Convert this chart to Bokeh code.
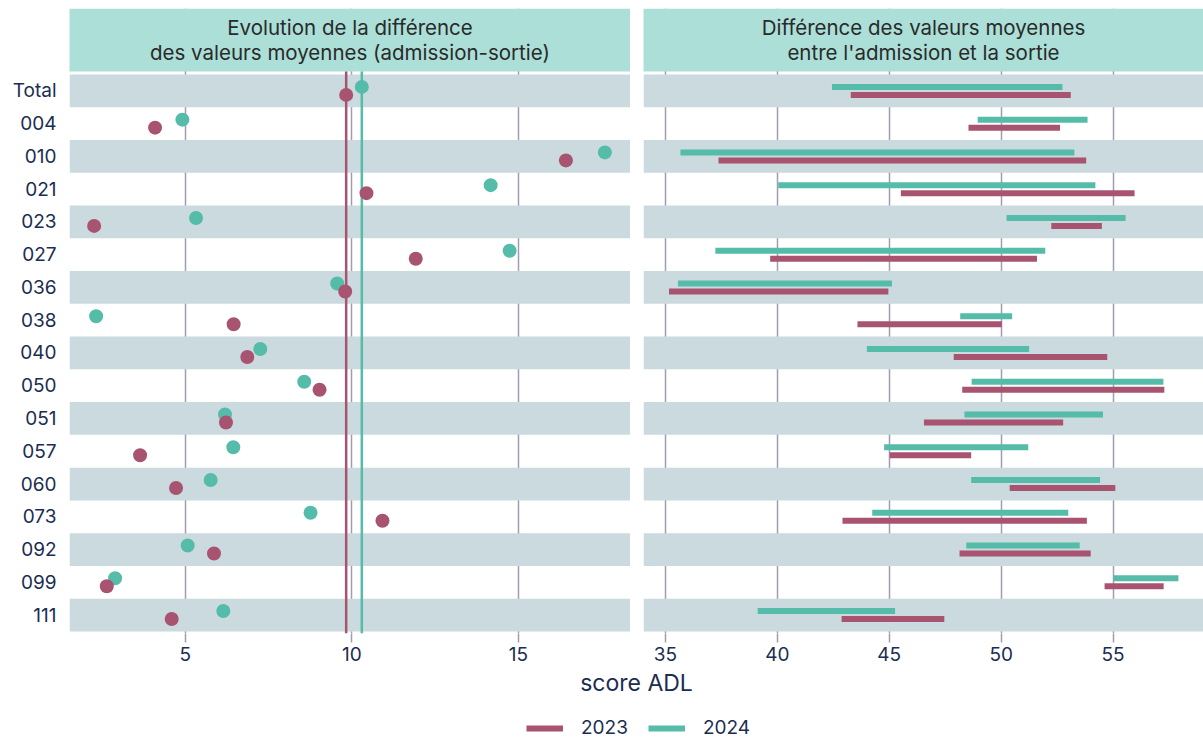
from bokeh.plotting import figure
from bokeh.models import Range1d, FixedTicker, Legend, LegendItem, Label
from bokeh.layouts import column, row
from bokeh.core.properties import value
from bokeh.embed import file_html
from bokeh.resources import INLINE
import numpy as np

categories = ["Total", "004", "010", "021", "023", "027", "036", "038", "040",
              "050", "051", "057", "060", "073", "092", "099", "111"]

adm_2023 = [43.28, 48.54, 37.37, 45.52, 52.24, 39.68, 35.16, 43.58, 47.88,
            48.26, 46.55, 45.02, 50.38, 42.91, 48.14, 54.62, 42.87]
sor_2023 = [53.11, 52.63, 53.80, 55.96, 54.50, 51.60, 44.96, 50.03, 54.74,
            57.29, 52.77, 48.66, 55.10, 53.83, 54.00, 57.26, 47.46]
adm_2024 = [42.44, 48.95, 35.67, 40.04, 50.24, 37.23, 35.56, 48.17, 44.00,
            48.68, 48.36, 44.77, 48.66, 44.24, 48.44, 55.03, 39.12]
sor_2024 = [52.74, 53.86, 53.27, 54.21, 55.56, 51.97, 45.12, 50.49, 51.25,
            57.25, 54.55, 51.21, 54.42, 53.00, 53.51, 57.92, 45.26]

years = ["2023", "2024"]
left_ticks = [5, 10, 15]
right_ticks = [35, 40, 45, 50, 55]
left_title = "Evolution de la différence\ndes valeurs moyennes (admission-sortie)"
right_title = "Différence des valeurs moyennes\nentre l'admission et la sortie"
axis_title = "score ADL"

C23 = "#a8536f"
C24 = "#55bcaa"
BAND = "#cbdadf"
HEAD = "#abdfd8"
GRID = "#a09cb5"
NAVY = "#1b2d52"
FONT = "Inter"

n = len(categories)
rows_idx = np.arange(n)
diff_2023 = np.array(sor_2023) - np.array(adm_2023)
diff_2024 = np.array(sor_2024) - np.array(adm_2024)
OFF = 0.122

Y_TOP = -2.5147
Y_HEAD_BOT = -0.5916
Y_BOT = 16.563


def base_fig(width, xr, ticks, border_left):
    p = figure(width=width, height=668, x_range=Range1d(*xr),
               y_range=Range1d(Y_BOT, Y_TOP), output_backend="svg",
               toolbar_location=None, min_border_left=border_left,
               min_border_right=0, min_border_top=8, min_border_bottom=35)
    p.outline_line_color = None
    p.background_fill_color = "white"
    p.xaxis.ticker = FixedTicker(ticks=ticks)
    p.xaxis.axis_line_color = None
    p.xaxis.major_tick_out = 9
    p.xaxis.major_tick_in = 0
    p.xaxis.major_tick_line_color = GRID
    p.xaxis.major_tick_line_width = 1.5
    p.xaxis.minor_tick_line_color = None
    p.xaxis.major_label_text_font = FONT
    p.xaxis.major_label_text_font_size = "19px"
    p.xaxis.major_label_text_color = NAVY
    p.xaxis.major_label_standoff = 4
    p.xgrid.ticker = FixedTicker(ticks=ticks)
    p.xgrid.grid_line_color = GRID
    p.xgrid.grid_line_width = 1.5
    p.ygrid.visible = False
    # alternating bands
    band_rows = rows_idx[::2]
    p.hbar(y=band_rows, height=1, left=xr[0] - 5, right=xr[1] + 5,
           fill_color=BAND, line_color=None)
    # header strip
    p.quad(left=[xr[0] - 5], right=[xr[1] + 5], top=[Y_TOP], bottom=[Y_HEAD_BOT],
           fill_color=HEAD, line_color=None)
    return p


# ---------------- left panel ----------------
xr_left = (1.52, 18.37)
p1 = base_fig(630, xr_left, left_ticks, 69)
p1.yaxis.ticker = FixedTicker(ticks=list(rows_idx))
p1.yaxis.major_label_overrides = {int(i): c for i, c in enumerate(categories)}
p1.yaxis.axis_line_color = None
p1.yaxis.major_tick_out = 0
p1.yaxis.major_tick_in = 0
p1.yaxis.minor_tick_line_color = None
p1.yaxis.major_label_text_font = FONT
p1.yaxis.major_label_text_font_size = "19px"
p1.yaxis.major_label_text_color = NAVY
p1.yaxis.major_label_standoff = 13

# mean lines (Total row)
p1.segment(x0=[diff_2023[0]], x1=[diff_2023[0]], y0=[Y_HEAD_BOT], y1=[Y_BOT],
           line_color=C23, line_width=2.5)
p1.segment(x0=[diff_2024[0]], x1=[diff_2024[0]], y0=[Y_HEAD_BOT], y1=[Y_BOT],
           line_color=C24, line_width=2.5)
p1.scatter(x=diff_2024, y=rows_idx - OFF, size=14, fill_color=C24, line_color=None)
p1.scatter(x=diff_2023, y=rows_idx + OFF, size=14, fill_color=C23, line_color=None)
p1.text(x=[(xr_left[0] + xr_left[1]) / 2], y=[-1.553], text=[left_title],
        text_align="center", text_baseline="middle", text_font=value(FONT),
        text_font_size="20.5px", text_color="#2a2a2a", text_line_height=0.97)

# ---------------- right panel ----------------
xr_right = (34.02, 59.04)
p2 = base_fig(573, xr_right, right_ticks, 13)
p2.yaxis.visible = False
p2.segment(x0=adm_2024, x1=sor_2024, y0=rows_idx - OFF, y1=rows_idx - OFF,
           line_color=C24, line_width=6, line_cap="butt")
p2.segment(x0=adm_2023, x1=sor_2023, y0=rows_idx + OFF, y1=rows_idx + OFF,
           line_color=C23, line_width=6, line_cap="butt")
p2.text(x=[(xr_right[0] + xr_right[1]) / 2], y=[-1.553], text=[right_title],
        text_align="center", text_baseline="middle", text_font=value(FONT),
        text_font_size="20.5px", text_color="#2a2a2a", text_line_height=0.97)

# ---------------- bottom: axis title + legend ----------------
p3 = figure(width=1203, height=72, x_range=Range1d(0, 1203), y_range=Range1d(72, 0),
            output_backend="svg", toolbar_location=None, min_border=0)
p3.axis.visible = False
p3.grid.visible = False
p3.outline_line_color = None
p3.add_layout(Label(x=636, y=14, text=axis_title, text_align="center",
                    text_baseline="middle", text_font=FONT,
                    text_font_size="23px", text_color=NAVY))
r23 = p3.line(x=[-100, -90], y=[-100, -100], line_color=C23, line_width=6)
r24 = p3.line(x=[-100, -90], y=[-100, -100], line_color=C24, line_width=6)
legend = Legend(items=[LegendItem(label=years[0], renderers=[r23]),
                       LegendItem(label=years[1], renderers=[r24])],
                orientation="horizontal", location=(526, 1),
                glyph_width=37, glyph_height=16, label_standoff=18, spacing=20,
                padding=0, margin=0, border_line_color=None,
                background_fill_alpha=0, label_text_font=FONT,
                label_text_font_size="19px", label_text_color=NAVY)
p3.add_layout(legend)

layout = column(row(p1, p2), p3)
open("out.html", "w").write(file_html(layout, INLINE))
